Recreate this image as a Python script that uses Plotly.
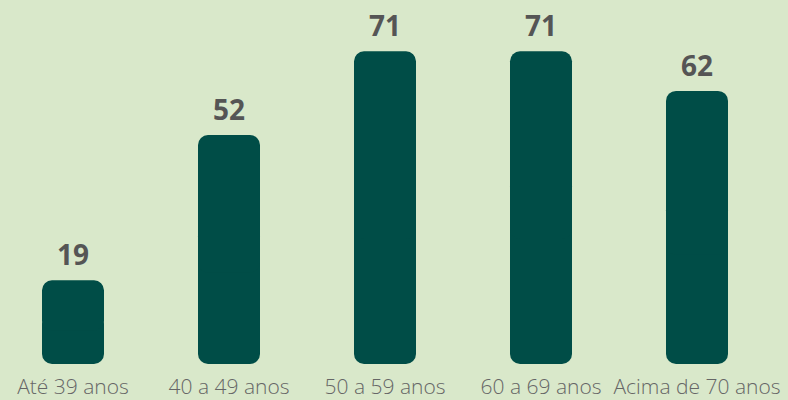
import plotly.graph_objects as go

categories = ["Até 39 anos", "40 a 49 anos", "50 a 59 anos", "60 a 69 anos", "Acima de 70 anos"]
values = [19, 52, 71, 71, 62]

BG = "#d9e8ca"
BAR = "#004d47"
NUM = "#555555"
LAB = "#666666"
PX_PER_CAT = 156.0
W = 62 / PX_PER_CAT
R = 10
X0 = -73 / PX_PER_CAT
X1 = X0 + 788 / PX_PER_CAT

fig = go.Figure()
# lower portion (rounded bottom end)
fig.add_trace(go.Bar(
    x=categories, y=[-0.6 * v for v in values], base=[0.6 * v for v in values],
    width=W, marker=dict(color=BAR, cornerradius=R, line=dict(width=0), opacity=1),
    hoverinfo="skip", showlegend=False))
# upper portion (rounded top end)
fig.add_trace(go.Bar(
    x=categories, y=[0.6 * v for v in values], base=[0.4 * v for v in values],
    width=W, marker=dict(color=BAR, cornerradius=R, line=dict(width=0), opacity=1),
    hoverinfo="skip", showlegend=False))

for c, v in zip(categories, values):
    fig.add_annotation(x=c, y=v, text=f"<b>{v}</b>", showarrow=False,
                       yanchor="bottom", yshift=5,
                       font=dict(family="Open Sans", size=28, color=NUM))

fig.update_layout(
    width=788, height=400,
    margin=dict(l=0, r=0, t=0, b=35.5),
    paper_bgcolor=BG, plot_bgcolor=BG,
    barmode="overlay",
    xaxis=dict(range=[X0, X1], showgrid=False, zeroline=False, showline=False,
               automargin=False, ticks="", ticklabelstandoff=8,
               tickfont=dict(family="Open Sans", size=21, color=LAB, weight=300)),
    yaxis=dict(range=[0, 82.65], visible=False, automargin=False),
)

fig.write_html("out.html", config={"displayModeBar": False},
               post_script="document.body.style.margin='0';document.body.style.background='" + BG + "';")
